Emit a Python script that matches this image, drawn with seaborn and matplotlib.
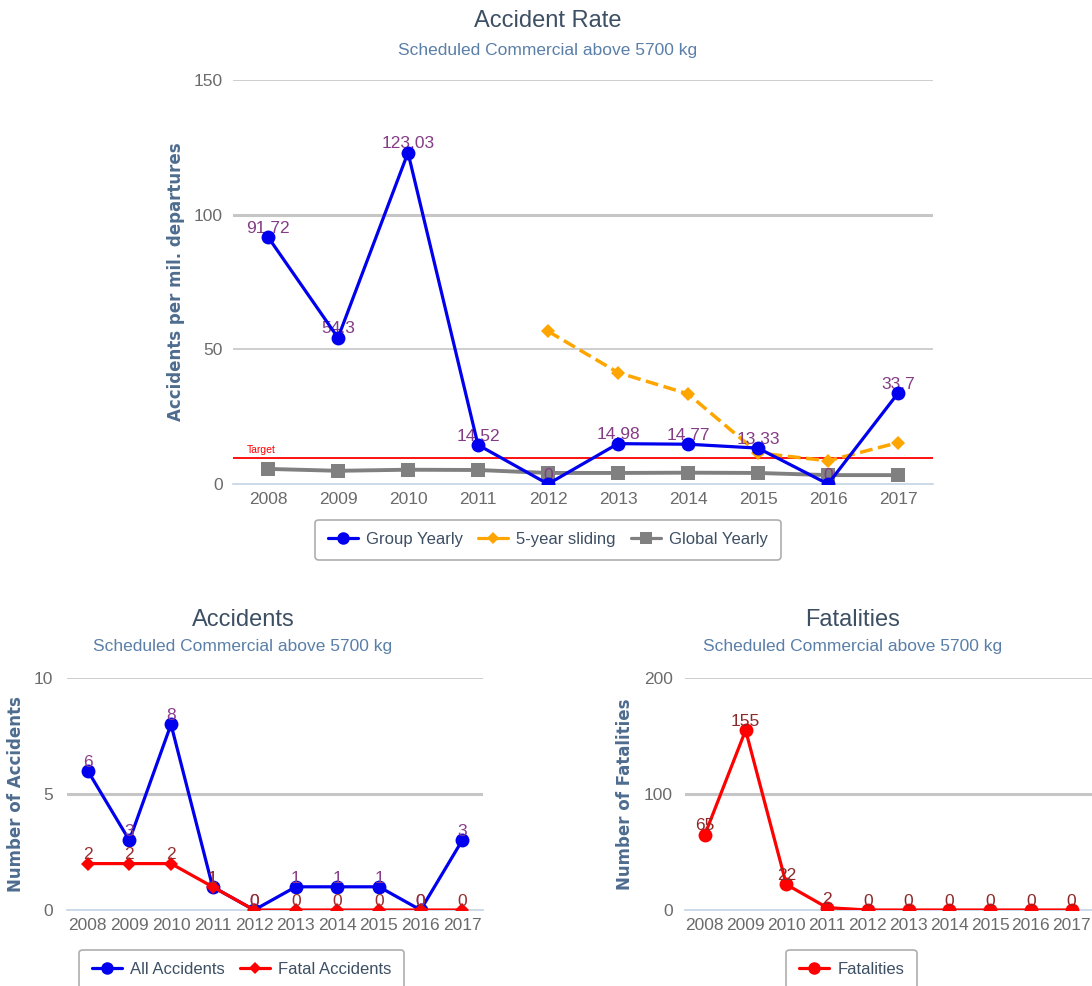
import pandas as pd
import seaborn as sns
import matplotlib.pyplot as plt
from matplotlib.lines import Line2D

# data
years = [2008, 2009, 2010, 2011, 2012, 2013, 2014, 2015, 2016, 2017]
group_yearly = [91.72, 54.3, 123.03, 14.52, 0, 14.98, 14.77, 13.33, 0, 33.7]
sliding_years = [2012, 2013, 2014, 2015, 2016, 2017]
sliding_5y = [56.72, 41.37, 33.46, 11.52, 8.62, 15.36]
global_yearly = [5.6, 4.9, 5.3, 5.2, 4.1, 4.1, 4.2, 4.1, 3.3, 3.3]
target = 9.5
all_accidents = [6, 3, 8, 1, 0, 1, 1, 1, 0, 3]
fatal_accidents = [2, 2, 2, 1, 0, 0, 0, 0, 0, 0]
fatalities = [65, 155, 22, 2, 0, 0, 0, 0, 0, 0]

sns.set_style("white")
plt.rcParams['font.family'] = ['Liberation Sans', 'DejaVu Sans']

TITLE_C = '#3d4f63'
SUB_C = '#5a7fa8'
TICK_C = '#6b6b6b'
YLAB_C = '#4e6c8e'
AXIS_C = '#c3d3e3'
GRID_C = '#c6c6c6'

fig = plt.figure(figsize=(10.92, 9.86), dpi=100)
W, H = 1092, 986


def px_axes(x0, y0, x1, y1):
    return fig.add_axes([x0 / W, 1 - y1 / H, (x1 - x0) / W, (y1 - y0) / H])


def style_axes(ax, ymax, yticks, thick, ylabel, labelpad):
    ax.set_ylim(0, ymax)
    ax.set_yticks(yticks)
    ax.set_xticks(years)
    ax.set_xticks([y - 0.5 for y in years] + [years[-1] + 0.5], minor=True)
    ax.tick_params(axis='x', which='major', length=0, labelsize=12.5, colors=TICK_C, pad=6)
    ax.tick_params(axis='x', which='minor', length=6, color=AXIS_C, width=1)
    ax.tick_params(axis='y', length=0, labelsize=12.5, colors=TICK_C, pad=labelpad)
    for s in ['top', 'right', 'left']:
        ax.spines[s].set_visible(False)
    ax.spines['bottom'].set_color(AXIS_C)
    ax.spines['bottom'].set_linewidth(1.2)
    for yv in yticks[1:]:
        ax.axhline(yv, color=GRID_C, lw=2.2 if yv == thick else 1.2, zorder=0)
    ax.set_xlabel('')
    ax.set_ylabel(ylabel, color=YLAB_C, fontsize=12, fontweight='bold',
                  family='DejaVu Sans')


def labels(ax, xs, vals, color, dy):
    for x, v in zip(xs, vals):
        ax.text(x, v + dy, f'{v:g}', ha='center', va='bottom', color=color, fontsize=12.5)


def make_legend(ax, handles, names, ncol, anchor):
    leg = ax.legend(handles, names, ncol=ncol, loc='upper center', bbox_to_anchor=anchor,
                    fontsize=12, frameon=True, fancybox=True, edgecolor='#9a9a9a',
                    handlelength=1.8, columnspacing=0.9, handletextpad=0.5,
                    borderpad=0.75, labelcolor='#3d4f63')
    leg.get_frame().set_linewidth(1.2)
    return leg


# ---------- top: accident rate ----------
ax1 = px_axes(233, 80, 933, 484)
ax1.axhline(target, color='red', lw=1.3, zorder=1)
ax1.text(2007.7, target + 1.2, 'Target', color='red', fontsize=7.5, va='bottom')
sns.lineplot(x=years, y=global_yearly, ax=ax1, color='#808080', marker='s',
             markersize=10, markeredgewidth=0, linewidth=2.8, zorder=2)
sns.lineplot(x=sliding_years, y=sliding_5y, ax=ax1, color='#ffa500', marker='D',
             markersize=7, markeredgewidth=0, linewidth=2.5, linestyle='--', zorder=3)
sns.lineplot(x=years, y=group_yearly, ax=ax1, color='#0000ee', marker='o',
             markersize=10, markeredgewidth=0, linewidth=2.3, zorder=4)
labels(ax1, years, group_yearly, '#843c84', 0.5)
ax1.set_xlim(2007.5, 2017.5)
style_axes(ax1, 150, [0, 50, 100, 150], 100, 'Accidents per mil. departures', 7.5)
ax1.yaxis.set_label_coords(-0.069, 0.5)
h1 = [Line2D([], [], color='#0000ee', marker='o', markersize=9, lw=2.3, mew=0),
      Line2D([], [], color='#ffa500', marker='D', markersize=6, lw=2.3, mew=0),
      Line2D([], [], color='#808080', marker='s', markersize=9, lw=2.3, mew=0)]
make_legend(ax1, h1, ['Group Yearly', '5-year sliding', 'Global Yearly'], 3, (0.45, -0.068))

fig.text(548 / W, 1 - 21 / H, 'Accident Rate', ha='center', va='center', fontsize=17, color=TITLE_C)
fig.text(548 / W, 1 - 50 / H, 'Scheduled Commercial above 5700 kg', ha='center', va='center',
         fontsize=12.5, color=SUB_C)

# ---------- bottom left: accidents ----------
ax2 = px_axes(67, 678, 483, 910)
sns.lineplot(x=years, y=fatal_accidents, ax=ax2, color='#ff0000', marker='D',
             markersize=7, markeredgewidth=0, linewidth=2.3, zorder=3)
sns.lineplot(x=years, y=all_accidents, ax=ax2, color='#0000ee', marker='o',
             markersize=10, markeredgewidth=0, linewidth=2.3, zorder=2)
labels(ax2, years, all_accidents, '#8a3e8a', 0.05)
labels(ax2, years, fatal_accidents, '#9a2e2e', 0.05)
ax2.set_xlim(2007.5, 2017.5)
style_axes(ax2, 10, [0, 5, 10], 5, 'Number of Accidents', 10)
ax2.yaxis.set_label_coords(-0.101, 0.5)
h2 = [Line2D([], [], color='#0000ee', marker='o', markersize=9, lw=2.3, mew=0),
      Line2D([], [], color='#ff0000', marker='D', markersize=6, lw=2.3, mew=0)]
make_legend(ax2, h2, ['All Accidents', 'Fatal Accidents'], 2, (0.42, -0.135))
fig.text(243 / W, 1 - 620 / H, 'Accidents', ha='center', va='center', fontsize=17, color=TITLE_C)
fig.text(243 / W, 1 - 647 / H, 'Scheduled Commercial above 5700 kg', ha='center', va='center',
         fontsize=12.5, color=SUB_C)

# ---------- bottom right: fatalities ----------
ax3 = px_axes(684.5, 678, 1092, 910)
sns.lineplot(x=years, y=fatalities, ax=ax3, color='#ff0000', marker='o',
             markersize=10, markeredgewidth=0, linewidth=2.3, zorder=3)
labels(ax3, years, fatalities, '#8b2a2a', 1.0)
ax3.set_xlim(2007.5, 2007.5 + (1092 - 684.5) / 41.0)
style_axes(ax3, 200, [0, 100, 200], 100, 'Number of Fatalities', 8.5)
ax3.yaxis.set_label_coords(-0.124, 0.5)
h3 = [Line2D([], [], color='#ff0000', marker='o', markersize=9, lw=2.3, mew=0)]
make_legend(ax3, h3, ['Fatalities'], 1, (0.41, -0.135))
fig.text(853 / W, 1 - 620 / H, 'Fatalities', ha='center', va='center', fontsize=17, color=TITLE_C)
fig.text(853 / W, 1 - 647 / H, 'Scheduled Commercial above 5700 kg', ha='center', va='center',
         fontsize=12.5, color=SUB_C)

fig.savefig('out.png', dpi=100)
